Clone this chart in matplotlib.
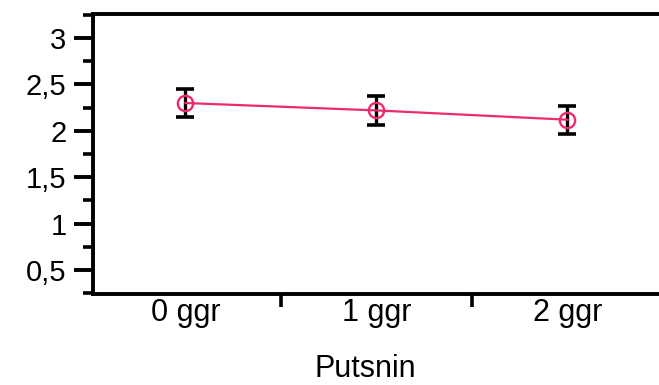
import matplotlib
matplotlib.use("Agg")
import matplotlib.pyplot as plt
from matplotlib.ticker import FuncFormatter, MultipleLocator, FixedLocator

categories = ["0 ggr", "1 ggr", "2 ggr"]
values = [2.30, 2.22, 2.12]
errors = [0.15, 0.16, 0.15]
yticks = [0.5, 1, 1.5, 2, 2.5, 3]

plt.rcParams['font.family'] = ['Liberation Sans', 'DejaVu Sans']

W, H = 659, 385
fig = plt.figure(figsize=(W/100, H/100), dpi=100)
left, right, top, bottom = 93, 663, 14, 294
ax = fig.add_axes([left/W, 1 - bottom/H, (right-left)/W, (bottom-top)/H])

x = list(range(len(categories)))
line_color = "#ec2a6c"
ax.errorbar(x, values, yerr=errors, fmt="none", ecolor="black", elinewidth=2.4,
            capsize=6.5, capthick=2.6, zorder=2)
ax.plot(x, values, color=line_color, lw=1.6, marker="o", ms=11,
        mfc="none", mec=line_color, mew=1.7, zorder=3)

ax.set_xlim(-0.484, 2.5)
ax.set_ylim(0.24, 3.26)

ax.yaxis.set_major_locator(FixedLocator(yticks))
ax.yaxis.set_minor_locator(MultipleLocator(0.25))
ax.yaxis.set_major_formatter(FuncFormatter(lambda v, p: ("%g" % v).replace(".", ",")))

ax.set_xticks(x)
ax.set_xticklabels(categories)
ax.xaxis.set_minor_locator(FixedLocator([0.5, 1.5]))
ax.tick_params(axis="x", which="major", length=0, pad=3, labelsize=22)
ax.tick_params(axis="x", which="minor", length=9, width=2.6, direction="out")
ax.tick_params(axis="y", which="major", length=14, width=2.8, labelsize=21, pad=5)
ax.tick_params(axis="y", which="minor", length=7, width=2.6)

for s in ["left", "top", "bottom"]:
    ax.spines[s].set_linewidth(2.8)
ax.spines["right"].set_visible(False)

ax.set_xlabel("Putsnin", fontsize=22)
ax.xaxis.set_label_coords((365 - left) / (right - left), -(369 - bottom) / (bottom - top))
ax.xaxis.label.set_va("center")

fig.savefig("out.png", dpi=100)
